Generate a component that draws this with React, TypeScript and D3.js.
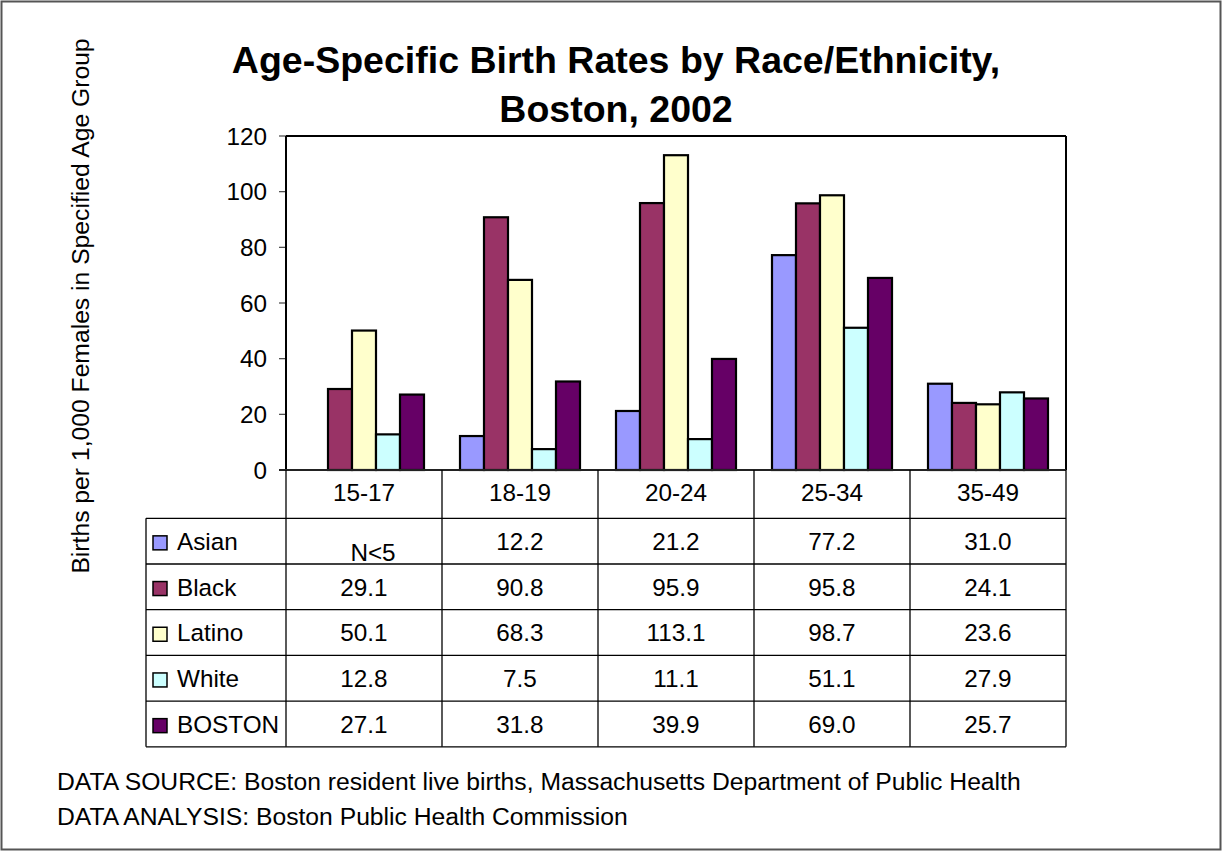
import React from "react";
import * as d3 from "d3";

const categories = ["15-17", "18-19", "20-24", "25-34", "35-49"];
const seriesNames = ["Asian", "Black", "Latino", "White", "BOSTON"];
const asian: (number | null)[] = [null, 12.2, 21.2, 77.2, 31.0];
const black = [29.1, 90.8, 95.9, 95.8, 24.1];
const latino = [50.1, 68.3, 113.1, 98.7, 23.6];
const white = [12.8, 7.5, 11.1, 51.1, 27.9];
const boston = [27.1, 31.8, 39.9, 69.0, 25.7];
const seriesColors = ["#9999FF", "#993366", "#FFFFCC", "#CCFFFF", "#660066"];
const yTicks = [0, 20, 40, 60, 80, 100, 120];
const missingLabel = "N<5";
const titleLines = ["Age-Specific Birth Rates by Race/Ethnicity,", "Boston, 2002"];
const yLabel = "Births per 1,000 Females in Specified Age Group";
const footnotes = [
  "DATA SOURCE: Boston resident live births, Massachusetts Department of Public Health",
  "DATA ANALYSIS: Boston Public Health Commission",
];

const seriesValues = [asian, black, latino, white, boston];

export default function App() {
  const W = 1222;
  const H = 851;
  const plotL = 286, plotR = 1066, plotT = 136, plotB = 470;
  const tableL = 146;
  const headerB = 518.3;
  const rowH = 45.7;
  const tableB = headerB + rowH * seriesNames.length;
  const font = "'Liberation Sans', Arial, sans-serif";

  const x = d3.scaleBand<string>().domain(categories).range([plotL, plotR]).padding(0);
  const xs = d3
    .scaleBand<string>()
    .domain(seriesNames)
    .range([0, x.bandwidth()])
    .paddingInner(0)
    .paddingOuter(0.75);
  const y = d3.scaleLinear().domain([0, 120]).range([plotB, plotT]);

  const lineColor = "#000";
  const fs = 24.3;

  return (
    <svg
      width={W}
      height={H}
      style={{ position: "absolute", left: 0, top: 0, background: "#fff" }}
      fontFamily={font}
    >
      <rect x={0} y={0} width={W} height={H} fill="#fff" />
      <rect x={1.5} y={1.5} width={1219} height={848} fill="none" stroke="#555" strokeWidth={2} />

      {/* Title */}
      <text x={616} y={73} textAnchor="middle" fontSize={37.5} fontWeight="bold" fill="#000">
        {titleLines[0]}
      </text>
      <text x={616} y={122} textAnchor="middle" fontSize={37.5} fontWeight="bold" fill="#000">
        {titleLines[1]}
      </text>

      {/* Y label */}
      <text
        transform={`translate(89,306) rotate(-90)`}
        textAnchor="middle"
        fontSize={24.7}
        fill="#000"
      >
        {yLabel}
      </text>

      {/* Y ticks */}
      {yTicks.map((t) => (
        <g key={t}>
          <line x1={279} x2={plotL} y1={y(t)} y2={y(t)} stroke="#444" strokeWidth={1.2} />
          <text x={267} y={y(t) + 8.5} textAnchor="end" fontSize={fs} fill="#000">
            {t}
          </text>
        </g>
      ))}

      {/* Bars */}
      {categories.map((c, ci) => (
        <g key={c} transform={`translate(${x(c)},0)`}>
          {seriesNames.map((s, si) => {
            const v = seriesValues[si][ci];
            if (v === null || v === undefined) return null;
            return (
              <rect
                key={s}
                x={xs(s)}
                y={y(v)}
                width={xs.bandwidth()}
                height={y(0) - y(v)}
                fill={seriesColors[si]}
                stroke="#000"
                strokeWidth={2.2}
              />
            );
          })}
        </g>
      ))}

      {/* Plot frame */}
      <line x1={plotL} x2={plotR} y1={plotT} y2={plotT} stroke="#000" strokeWidth={2} />
      <line x1={plotR} x2={plotR} y1={plotT} y2={plotB} stroke="#000" strokeWidth={2} />
      <line x1={plotL} x2={plotL} y1={plotT} y2={plotB} stroke="#000" strokeWidth={2} />
      <line x1={279} x2={plotR} y1={plotB} y2={plotB} stroke="#222" strokeWidth={2} />

      {/* Table grid */}
      <line x1={tableL} x2={plotR} y1={headerB} y2={headerB} stroke={lineColor} strokeWidth={1.3} />
      {seriesNames.map((s, i) => (
        <line
          key={s}
          x1={tableL}
          x2={plotR}
          y1={headerB + rowH * (i + 1)}
          y2={headerB + rowH * (i + 1)}
          stroke={lineColor}
          strokeWidth={1.3}
        />
      ))}
      <line x1={tableL} x2={tableL} y1={headerB} y2={tableB} stroke={lineColor} strokeWidth={1.3} />
      {categories.map((c) => (
        <line
          key={c}
          x1={x(c)}
          x2={x(c)}
          y1={plotB}
          y2={tableB}
          stroke={lineColor}
          strokeWidth={1.3}
        />
      ))}
      <line x1={plotR} x2={plotR} y1={plotB} y2={tableB} stroke={lineColor} strokeWidth={1.3} />

      {/* Category labels */}
      {categories.map((c) => (
        <text
          key={c}
          x={(x(c) as number) + x.bandwidth() / 2}
          y={501}
          textAnchor="middle"
          fontSize={fs}
          fill="#000"
        >
          {c}
        </text>
      ))}

      {/* Table rows */}
      {seriesNames.map((s, si) => {
        const top = headerB + rowH * si;
        const base = top + rowH / 2 + 8.7;
        return (
          <g key={s}>
            <rect
              x={153}
              y={base - 14}
              width={14}
              height={14}
              fill={seriesColors[si]}
              stroke="#000"
              strokeWidth={1.5}
            />
            <text x={177} y={base} fontSize={fs} fill="#000">
              {s}
            </text>
            {categories.map((c, ci) => {
              const v = seriesValues[si][ci];
              const cx = (x(c) as number) + x.bandwidth() / 2;
              if (v === null || v === undefined) {
                return (
                  <text key={c} x={cx + 9} y={top + rowH - 3.5} textAnchor="middle" fontSize={fs} fill="#000">
                    {missingLabel}
                  </text>
                );
              }
              return (
                <text key={c} x={cx} y={base} textAnchor="middle" fontSize={fs} fill="#000">
                  {v.toFixed(1)}
                </text>
              );
            })}
          </g>
        );
      })}

      {/* Footnotes */}
      {footnotes.map((f, i) => (
        <text key={i} x={57} y={790 + i * 35} fontSize={24.7} fill="#000">
          {f}
        </text>
      ))}
    </svg>
  );
}
